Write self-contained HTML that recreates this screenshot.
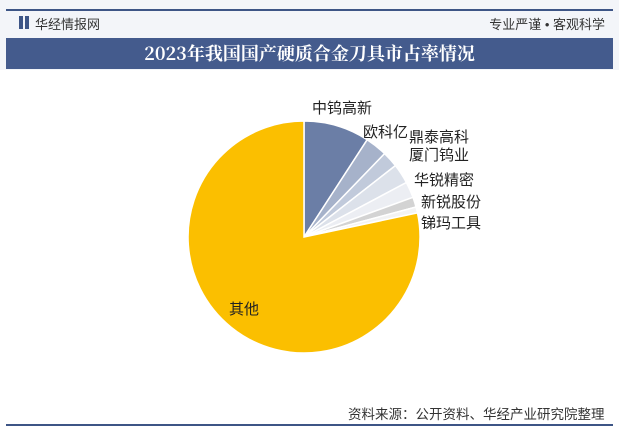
<!DOCTYPE html>
<html><head><meta charset="utf-8"><style>
body{margin:0;width:619px;height:435px;background:#fff;font-family:"Liberation Sans","Noto Sans CJK SC",sans-serif;position:relative;overflow:hidden}
.top{position:absolute;left:0;top:0;width:619px;height:70px;background:#f3f5f9}
.line{position:absolute;left:6px;width:607px;height:2px;background:#3d5586}
.t{position:absolute;font-size:13px;color:#333}
.title{position:absolute;left:6px;top:38px;width:607px;height:31px;background:#445b8d;color:#fff;font-family:"Noto Serif CJK SC",serif;font-weight:bold;font-size:18px;text-align:center;line-height:31px}
svg{position:absolute;left:0;top:0}
</style></head><body>
<div class="top"></div>
<div class="line" style="top:9px"></div>
<div style="position:absolute;left:19px;top:16px;width:4px;height:13px;background:#3d5586"></div>
<div style="position:absolute;left:25px;top:16px;width:4px;height:13px;background:#3d5586"></div>
<div class="t" style="left:35px;top:14px">华经情报网</div>
<div class="t" style="right:14px;top:14px">专业严谨 • 客观科学</div>
<div class="title">2023年我国国产硬质合金刀具市占率情况</div>
<svg width="619" height="435" font-family="Liberation Sans, Noto Sans CJK SC, sans-serif" font-size="15" fill="#222">
<g stroke="#fff" stroke-width="1.5">
<path d="M304,237 L304,121 A116,116 0 0 1 367.2,139.7 Z" fill="#6b7ea6"/>
<path d="M304,237 L367.2,139.7 A116,116 0 0 1 384.6,153.6 Z" fill="#a6b2ca"/>
<path d="M304,237 L384.6,153.6 A116,116 0 0 1 395.4,165.6 Z" fill="#c1cadb"/>
<path d="M304,237 L395.4,165.6 A116,116 0 0 1 406.4,182.5 Z" fill="#dce1ea"/>
<path d="M304,237 L406.4,182.5 A116,116 0 0 1 413,197.3 Z" fill="#eceef3"/>
<path d="M304,237 L413,197.3 A116,116 0 0 1 416,207 Z" fill="#d3d3d3"/>
<path d="M304,237 L416,207 A116,116 0 0 1 417.5,212.9 Z" fill="#f3f3f3"/>
<path d="M304,237 L417.5,212.9 A116,116 0 1 1 304,121 Z" fill="#fbbf00"/>
</g>
<text x="312" y="113">中钨高新</text>
<text x="363" y="137">欧科亿</text>
<text x="409" y="142">鼎泰高科</text>
<text x="409" y="160">厦门钨业</text>
<text x="414" y="185">华锐精密</text>
<text x="421" y="207">新锐股份</text>
<text x="421" y="228">锑玛工具</text>
<text x="229" y="314">其他</text>
<text x="348" y="419" font-size="13.5" fill="#333">资料来源：公开资料、华经产业研究院整理</text>
</svg>
<div class="line" style="top:424px"></div>
</body></html>
